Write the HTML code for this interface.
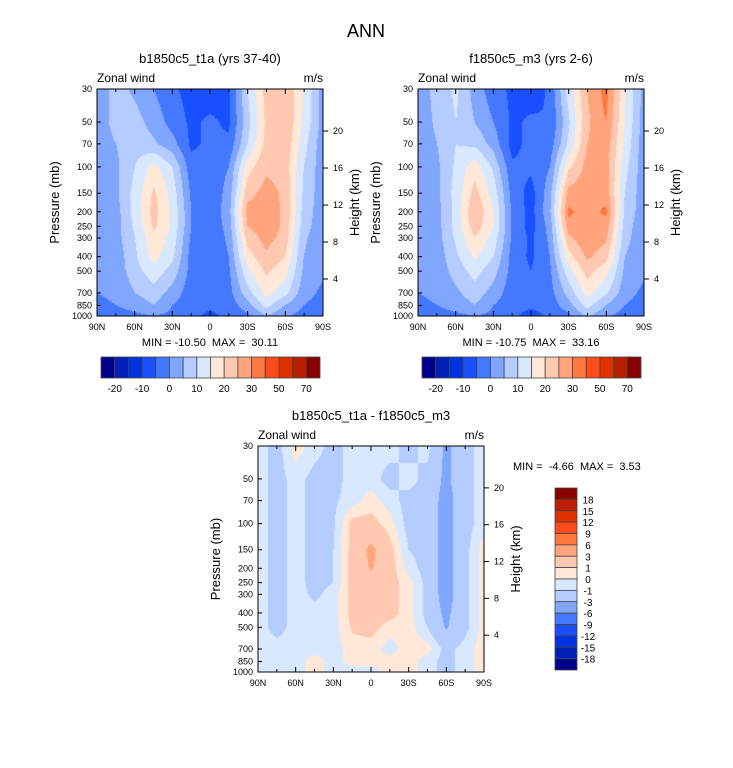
<!DOCTYPE html>
<html><head><meta charset="utf-8"><style>
body{margin:0;background:#fff;width:733px;height:768px;overflow:hidden;font-family:"Liberation Sans",sans-serif}
#wrap{position:relative;width:733px;height:768px}
canvas{position:absolute}
svg{position:absolute;left:0;top:0}
text{white-space:pre}
</style></head><body>
<div id="wrap">
<canvas id="c1" width="226" height="227" style="left:97px;top:89px"></canvas>
<canvas id="c2" width="226" height="227" style="left:418px;top:89px"></canvas>
<canvas id="c3" width="226" height="226" style="left:258px;top:446px"></canvas>
<svg id="s" width="733" height="768"></svg>
</div>
<script>
const lats=['90N','60N','30N','0','30S','60S','90S'];
const presLevels=[30,50,70,100,150,200,250,300,400,500,700,850,1000];
const presTicks=[30,50,70,100,150,200,250,300,400,500,700,850,1000];
const hTicks=[4,8,12,16,20];
const levelsAbs=[-20,-15,-10,-5,0,5,10,15,20,25,30,40,50,60,70];
const labelsAbs=['-20','-10','0','10','20','30','50','70'];
const levelsDiff=[-18,-15,-12,-9,-6,-3,-1,0,1,3,6,9,12,15,18];
const colors=['#00008a','#0020b8','#0034e0','#1a4fff','#4478ff','#80a6ff','#b4ccff','#d8e8ff','#ffe8d8','#ffc8b0','#ffa47c','#ff7840','#ff4c18','#e03000','#b82000','#880000'];
const u1=[
[2,7,4,0,-4,-7,-8,-6,10,22,25,15,3],
[2,7,7,3,-2,-6,-4,-6,8,21,25,14,3],
[2,5,8,6,2,-6,-4,-4,10,22,24,12,2],
[2,4,10,17,10,-3,-3,0,18,24,23,10,2],
[2,4,12,21,13,-1,-4,2,23,27,24,9,2],
[1,3,12,22,14,0,-4,3,27,28,24,8,2],
[1,3,11,21,14,0,-4,2,25,28,24,7,2],
[1,3,10,19,13,-1,-4,1,22,27,23,6,1],
[1,2,9,17,11,-2,-4,0,18,24,20,5,1],
[1,2,8,13,8,-2,-4,-1,14,21,17,4,1],
[0,1,5,8,3,-3,-4,-2,8,17,12,2,-1],
[-1,0,2,5,0,-3,-4,-3,3,12,5,0,-2],
[-3,-2,-1,0,-1,-4,-6,-4,-1,5,1,-2,-3]];
const u2=[
[2,7,11,3,-3,-6,-8,-4,12,25,32,16,3],
[2,6,10,5,0,-6,-4,-5,9,24,30,15,3],
[2,5,10,9,3,-7,-3,-3,11,25,28,14,2],
[2,4,11,18,9,-4,-4,0,19,27,27,12,2],
[2,4,12,22,13,-2,-7,3,27,28,28,10,2],
[1,3,12,25,15,-1,-7,4,31,28,31,9,2],
[1,3,12,23,15,-1,-7,2,28,29,28,8,1],
[1,3,11,20,13,-1,-6,1,24,29,26,7,1],
[1,2,9,16,10,-2,-6,0,18,26,22,5,1],
[1,2,7,12,7,-2,-5,-1,13,22,17,4,1],
[0,1,4,8,3,-3,-4,-2,7,17,11,2,-1],
[-1,0,2,5,0,-3,-4,-3,3,12,5,0,-2],
[-3,-2,-1,0,-1,-4,-7,-4,-1,6,1,-2,-4]];
const ud=[
[-0.5,-1.5,0.5,-0.5,-1.5,-0.5,-0.5,-0.5,-1.5,-0.5,-3.5,-1.5,-0.5],
[-0.5,-1.5,-0.5,-1.5,-1.5,-0.5,-0.5,-1.5,-0.5,-1.5,-3.5,-1.5,-0.5],
[-0.5,-1.5,-0.5,-1.5,-1.2,-0.5,0.5,-0.5,-1.5,-1.5,-4,-1.5,-0.5],
[-0.5,-1.5,-0.5,-1.5,-1.2,1.5,1.5,0.5,-1.5,-1.5,-4,-1.5,-0.5],
[-0.5,-1.5,-0.5,-1.5,-1,1.5,3.5,1.5,-1,-1.5,-4,-1.5,0.5],
[-0.5,-1.5,-0.5,-1.5,-1,1.5,3.2,1.8,-0.5,-1.5,-4,-1.5,0.5],
[-0.5,-1.5,-0.5,-1.5,-1,1.5,2,1.5,0.5,-1.5,-4,-1.5,0.5],
[-0.5,-1.5,-0.5,-1.3,-0.5,1.5,2,1.5,0.5,-1.5,-4,-1.5,0.5],
[-0.5,-1.5,-0.5,-0.5,-0.5,1.5,2,1.5,0.5,-1.5,-3.5,-1.5,0.5],
[-0.5,-1.5,-0.5,-0.5,-0.5,1.2,1.5,0.5,0.5,-1,-3.2,-1.5,0.5],
[-0.5,-0.5,-0.5,-0.5,-0.5,0.5,0.5,-0.5,0.5,0.5,-1.5,-0.5,0.5],
[-0.5,-0.5,-0.5,0.5,-0.5,0.5,0.5,0.5,0.5,-0.5,-1.5,-0.5,0.5],
[-0.5,-0.5,-0.5,0.5,-0.5,-0.5,-0.5,0.5,0.5,-0.5,-1.5,-0.5,0.5]];

const L=Math.log10;
function pFrac(p){return L(p/30)/L(1000/30);}
function hex(c){return [parseInt(c.slice(1,3),16),parseInt(c.slice(3,5),16),parseInt(c.slice(5,7),16)];}
const rgb=colors.map(hex);
function colorIdx(v,lv){let i=0;while(i<lv.length&&v>=lv[i])i++;return i;}
const rowF=presLevels.map(pFrac);
function sm(t){return t*t*(3-2*t);}
function draw(id,data,lv){
  const cv=document.getElementById(id),ctx=cv.getContext('2d'),W=cv.width,H=cv.height;
  const img=ctx.createImageData(W,H);
  const nc=data[0].length;
  for(let y=0;y<H;y++){
    const f=y/(H-1);let r=0;while(r<rowF.length-2&&f>rowF[r+1])r++;
    const t=Math.min(1,Math.max(0,(f-rowF[r])/(rowF[r+1]-rowF[r])));
    for(let x=0;x<W;x++){
      const gx=x/(W-1)*(nc-1);let c=Math.min(nc-2,Math.floor(gx));const s=gx-c;
      const v=(data[r][c]*(1-s)+data[r][c+1]*s)*(1-t)+(data[r+1][c]*(1-s)+data[r+1][c+1]*s)*t;
      const col=rgb[colorIdx(v,lv)],k=(y*W+x)*4;
      img.data[k]=col[0];img.data[k+1]=col[1];img.data[k+2]=col[2];img.data[k+3]=255;
    }
  }
  ctx.putImageData(img,0,0);
}
draw('c1',u1,levelsAbs);draw('c2',u2,levelsAbs);draw('c3',ud,levelsDiff);

const NS='http://www.w3.org/2000/svg',S=document.getElementById('s');
function el(tag,at,txt){const e=document.createElementNS(NS,tag);for(const k in at)e.setAttribute(k,at[k]);if(txt!==undefined)e.textContent=txt;S.appendChild(e);return e;}
function txt(x,y,s,size,anchor,name,rot){const e=el('text',{x:x,y:y,'font-size':size,'text-anchor':anchor||'middle',fill:'#000'},s);if(rot)e.setAttribute('transform','rotate(-90 '+x+' '+y+')');

return e;}
txt(366,37,'ANN',18,'middle','figure-title');

function panel(x0,y0,w,h,title,idx){
  txt(x0+w/2,y0-26,title,13,'middle','panel-title-'+idx);
  txt(x0,y0-7,'Zonal wind',12,'start','variable-label-'+idx);
  txt(x0+w,y0-7,'m/s',12,'end','units-label-'+idx);
  const fr=el('rect',{x:x0,y:y0,width:w,height:h,fill:'none',stroke:'#000','stroke-width':1});
  
  
  for(let i=0;i<=12;i++){const x=x0+w*i/12,len=i%2?3:5;
    el('line',{x1:x,y1:y0+h,x2:x,y2:y0+h-len,stroke:'#000'});
    el('line',{x1:x,y1:y0,x2:x,y2:y0+len,stroke:'#000'});}
  lats.forEach((l,i)=>txt(x0+w*i/6,y0+h+14,l,9,'middle','x-tick-label-'+idx));
  presTicks.forEach(p=>{const y=y0+h*pFrac(p);el('line',{x1:x0,y1:y,x2:x0+4,y2:y,stroke:'#000'});
    txt(x0-5,y+3,String(p),9,'end','y-tick-label-'+idx);});
  hTicks.forEach(z=>{const p=1000*Math.exp(-z/7);const y=y0+h*pFrac(p);
    el('line',{x1:x0+w,y1:y,x2:x0+w+5,y2:y,stroke:'#000'});
    txt(x0+w+10,y+3,String(z),9,'start','height-tick-label-'+idx);});
  txt(x0-38,y0+h/2,'Pressure (mb)',13,'middle','y-axis-title-'+idx,true);
  txt(x0+w+36,y0+h/2,'Height (km)',13,'middle','height-axis-title-'+idx,true);
}
panel(97,89,226,227,'b1850c5_t1a (yrs 37-40)',1);
panel(418,89,226,227,'f1850c5_m3 (yrs 2-6)',2);
panel(258,446,226,226,'b1850c5_t1a - f1850c5_m3',3);
txt(210,346,'MIN = -10.50  MAX =  30.11',11,'middle','min-max-1');
txt(531,346,'MIN = -10.75  MAX =  33.16',11,'middle','min-max-2');
txt(513,470,'MIN =  -4.66  MAX =  3.53',11,'start','min-max-3');

function hbar(x0,y0,w,h,idx){
  const bw=w/colors.length;
  colors.forEach((c,i)=>{const r=el('rect',{x:x0+i*bw,y:y0,width:bw,height:h,fill:c,stroke:'#444','stroke-width':0.8});
    
    });
  labelsAbs.forEach((l,k)=>txt(x0+bw*(1+2*k),y0+h+14,l,10,'middle','colorbar-label-'+idx));
}
hbar(101,357,219,21,1);hbar(422,357,219,21,2);
(function(){const x0=555,y0=488,w=22,h=182,bh=h/colors.length;
  colors.slice().reverse().forEach((c,i)=>{const r=el('rect',{x:x0,y:y0+i*bh,width:w,height:bh,fill:c,stroke:'#444','stroke-width':0.8});
    
    });
  levelsDiff.slice().reverse().forEach((v,i)=>txt(588,y0+bh*(i+1)+4,String(v),10,'middle','colorbar-label-3'));
})();
</script>
</body></html>
